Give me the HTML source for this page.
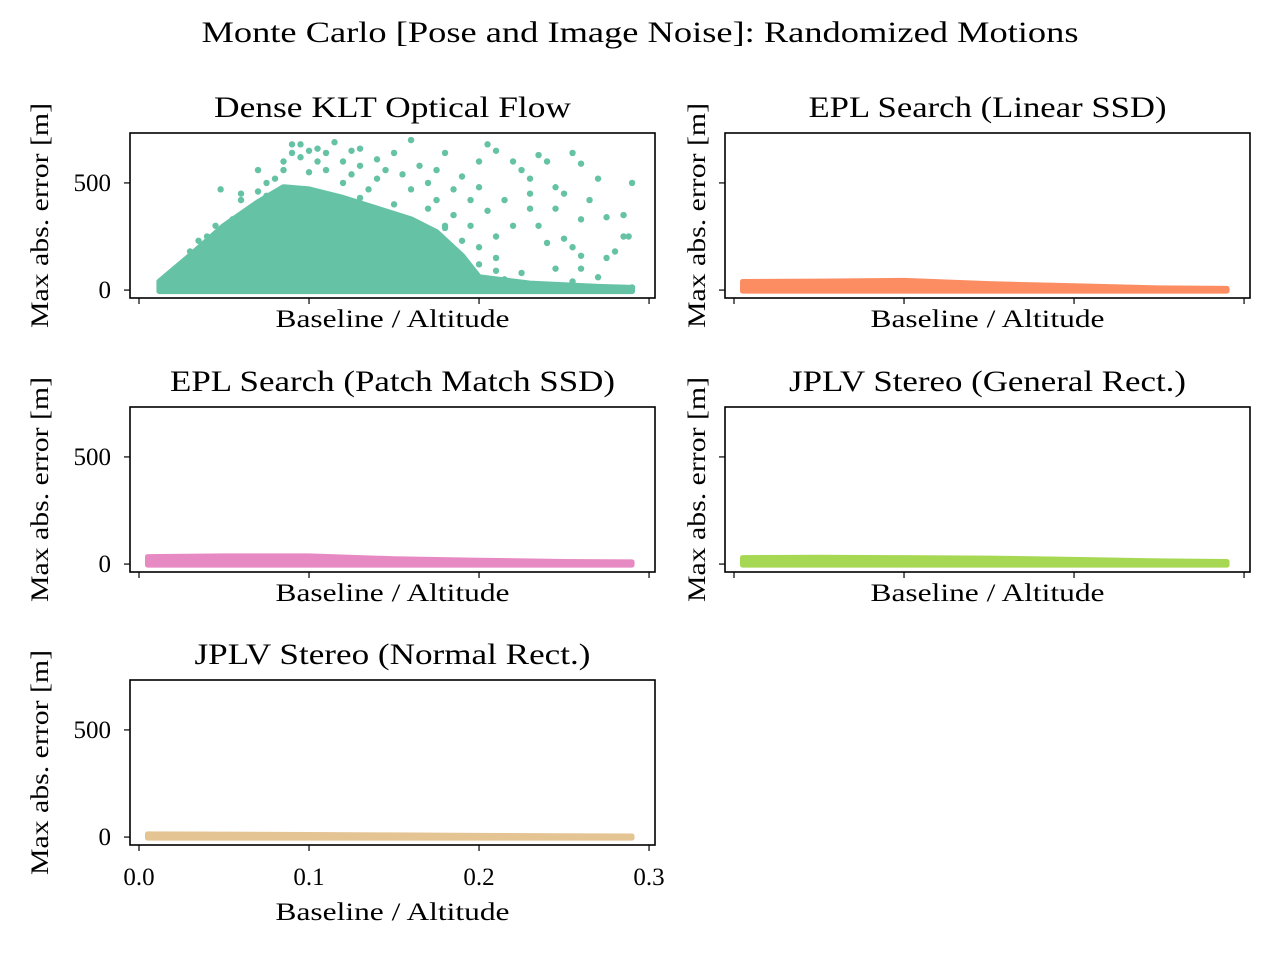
<!DOCTYPE html>
<html><head><meta charset="utf-8"><style>
html,body{margin:0;padding:0;background:#fff;}
svg{display:block;font-family:"Liberation Serif",serif;}
</style></head><body>
<svg id="fig" width="1280" height="960" viewBox="0 0 1280 960">
<text x="640" y="42" text-anchor="middle" font-size="30" textLength="877" lengthAdjust="spacingAndGlyphs">Monte Carlo [Pose and Image Noise]: Randomized Motions</text>
</svg>
<script>
// KLT dense core envelope (x, upper error)
const kltCoreX = [0.012,0.03,0.05,0.07,0.085,0.10,0.12,0.14,0.16,0.175,0.19,0.20,0.23,0.27,0.29];
const kltCoreY = [40,160,300,410,480,470,430,380,330,270,160,60,30,15,10];
// KLT scattered points
const kltX = [0.048,0.10,0.115,0.09,0.16,0.12,0.13,0.15,0.165,0.175,0.18,0.19,0.20,0.205,0.21,0.22,0.225,0.23,0.235,0.24,0.245,0.25,0.255,0.26,0.245,0.23,0.22,0.215,0.235,0.24,0.255,0.26,0.265,0.27,0.275,0.285,0.288,0.29,0.285,0.28,0.275,0.27,0.26,0.255,0.245,0.225,0.21,0.20,0.21,0.195,0.185,0.175,0.16,0.14,0.145,0.155,0.17,0.11,0.125,0.135,0.185,0.195,0.205,0.215,0.225,0.24,0.25,0.265,0.285,0.29,0.07,0.085,0.095,0.075,0.06,0.045,0.035,0.105,0.125,0.14,0.20,0.18,0.23,0.25,0.26,0.03,0.04,0.055,0.065,0.075,0.08,0.085,0.09,0.095,0.105,0.11,0.12,0.13,0.15,0.17,0.18,0.19,0.2,0.21,0.195,0.06,0.07,0.1,0.13];
const kltY = [470,650,690,680,700,600,660,640,580,560,640,530,600,680,650,600,560,520,630,600,480,450,640,590,380,380,300,420,300,220,200,330,420,520,340,250,250,500,350,180,150,60,100,40,100,80,150,200,250,300,350,420,470,520,560,540,500,560,540,470,470,420,370,50,20,20,15,12,10,12,560,600,620,500,420,300,230,600,650,610,480,300,450,240,160,180,250,330,380,440,520,560,640,680,660,640,500,430,400,380,290,230,120,90,100,450,460,550,580];
// Band envelopes for other methods
const bandX = [0.005,0.05,0.10,0.15,0.20,0.25,0.29];
const eplLinUpper = [40,42,45,30,20,10,8];
const eplPatchUpper = [35,38,38,25,18,12,10];
const jplvGenUpper = [30,32,30,28,22,15,12];
const jplvNormUpper = [15,14,12,10,8,6,5];
const bandLower = [-5,-5,-5,-5,-5,-5,-5];
const xTicks = [0.0,0.1,0.2,0.3];
const xTickLabels = ["0.0","0.1","0.2","0.3"];
const yTicks = [0,500];
const yTickLabels = ["0","500"];

const NS="http://www.w3.org/2000/svg";
const svg=document.getElementById('fig');
const W=525,H=165,XMIN=-0.0053,XMAX=0.3035,YMIN=-37,YMAX=733;
function mk(tag,attrs,parent){const e=document.createElementNS(NS,tag);for(const k in attrs)e.setAttribute(k,attrs[k]);(parent||svg).appendChild(e);return e;}
function panel(id,title,titleLen,L,T,showXLabels,showYLabels){
  const g=mk('g',{});
  
  
  const sx=v=>L+(v-XMIN)/(XMAX-XMIN)*W;
  const sy=v=>T+H-(v-YMIN)/(YMAX-YMIN)*H;
  const clipId='c'+id;
  const cp=mk('clipPath',{id:clipId},g);mk('rect',{x:L,y:T,width:W,height:H},cp);
  const data=mk('g',{'clip-path':'url(#'+clipId+')'},g);
  return {g,sx,sy,data,finish(){
    const fr=mk('rect',{x:L,y:T,width:W,height:H,fill:'none',stroke:'#000','stroke-width':1.6},g);
    
    
    xTicks.forEach((t,i)=>{const x=sx(t);mk('line',{x1:x,x2:x,y1:T+H,y2:T+H+6,stroke:'#000','stroke-width':1.2},g);
      if(showXLabels){const tl=mk('text',{x:x,y:T+H+40,'text-anchor':'middle','font-size':25},g);tl.textContent=xTickLabels[i];
      
      }});
    yTicks.forEach((t,i)=>{const y=sy(t);mk('line',{x1:L,x2:L-6,y1:y,y2:y,stroke:'#000','stroke-width':1.2},g);
      if(showYLabels){const tl=mk('text',{x:L-19,y:y+8,'text-anchor':'end','font-size':25},g);tl.textContent=yTickLabels[i];
      
      }});
    const tt=mk('text',{x:L+W/2,y:T-16,'text-anchor':'middle','font-size':30,textLength:titleLen,lengthAdjust:'spacingAndGlyphs'},g);tt.textContent=title;
    
    
    const xl=mk('text',{x:L+W/2,y:showXLabels?T+H+75:T+H+29,'text-anchor':'middle','font-size':25,textLength:234,lengthAdjust:'spacingAndGlyphs'},g);xl.textContent='Baseline / Altitude';
    
    
    const yx=showYLabels?L-82:L-20;
    const yl=mk('text',{x:0,y:0,'text-anchor':'middle','font-size':25,textLength:225,lengthAdjust:'spacingAndGlyphs',transform:`translate(${yx},${T+H/2}) rotate(-90)`},g);yl.textContent='Max abs. error [m]';
    
    
  }};
}
function band(p,upper,color){
  let d='';bandX.forEach((x,i)=>{d+=(i?'L':'M')+p.sx(x)+','+p.sy(upper[i]);});
  for(let i=bandX.length-1;i>=0;i--)d+='L'+p.sx(bandX[i])+','+p.sy(bandLower[i]);
  const b=mk('path',{d:d+'Z',fill:color,stroke:color,'stroke-width':5,'stroke-linejoin':'round'},p.data);
  
  
}
// Panel 1
const p1=panel('klt','Dense KLT Optical Flow',357,130,133,false,true);
{let d='';kltCoreX.forEach((x,i)=>{d+=(i?'L':'M')+p1.sx(x)+','+p1.sy(kltCoreY[i]);});
 for(let i=kltCoreX.length-1;i>=0;i--)d+='L'+p1.sx(kltCoreX[i])+','+p1.sy(-5);
 const c=mk('path',{d:d+'Z',fill:'#66c2a5',stroke:'#66c2a5','stroke-width':6,'stroke-linejoin':'round'},p1.data);
 
 
 kltX.forEach((x,i)=>{const pt=mk('circle',{cx:p1.sx(x),cy:p1.sy(kltY[i]),r:3.2,fill:'#66c2a5'},p1.data);
  
  });}
p1.finish();
const p2=panel('epl-linear','EPL Search (Linear SSD)',358,725,133,false,false);band(p2,eplLinUpper,'#fc8d62');p2.finish();
const p3=panel('epl-patch','EPL Search (Patch Match SSD)',445,130,407,false,true);band(p3,eplPatchUpper,'#e78ac3');p3.finish();
const p4=panel('jplv-general','JPLV Stereo (General Rect.)',397,725,407,false,false);band(p4,jplvGenUpper,'#a6d854');p4.finish();
const p5=panel('jplv-normal','JPLV Stereo (Normal Rect.)',396,130,680,true,true);band(p5,jplvNormUpper,'#e5c494');p5.finish();
</script>
</body></html>
